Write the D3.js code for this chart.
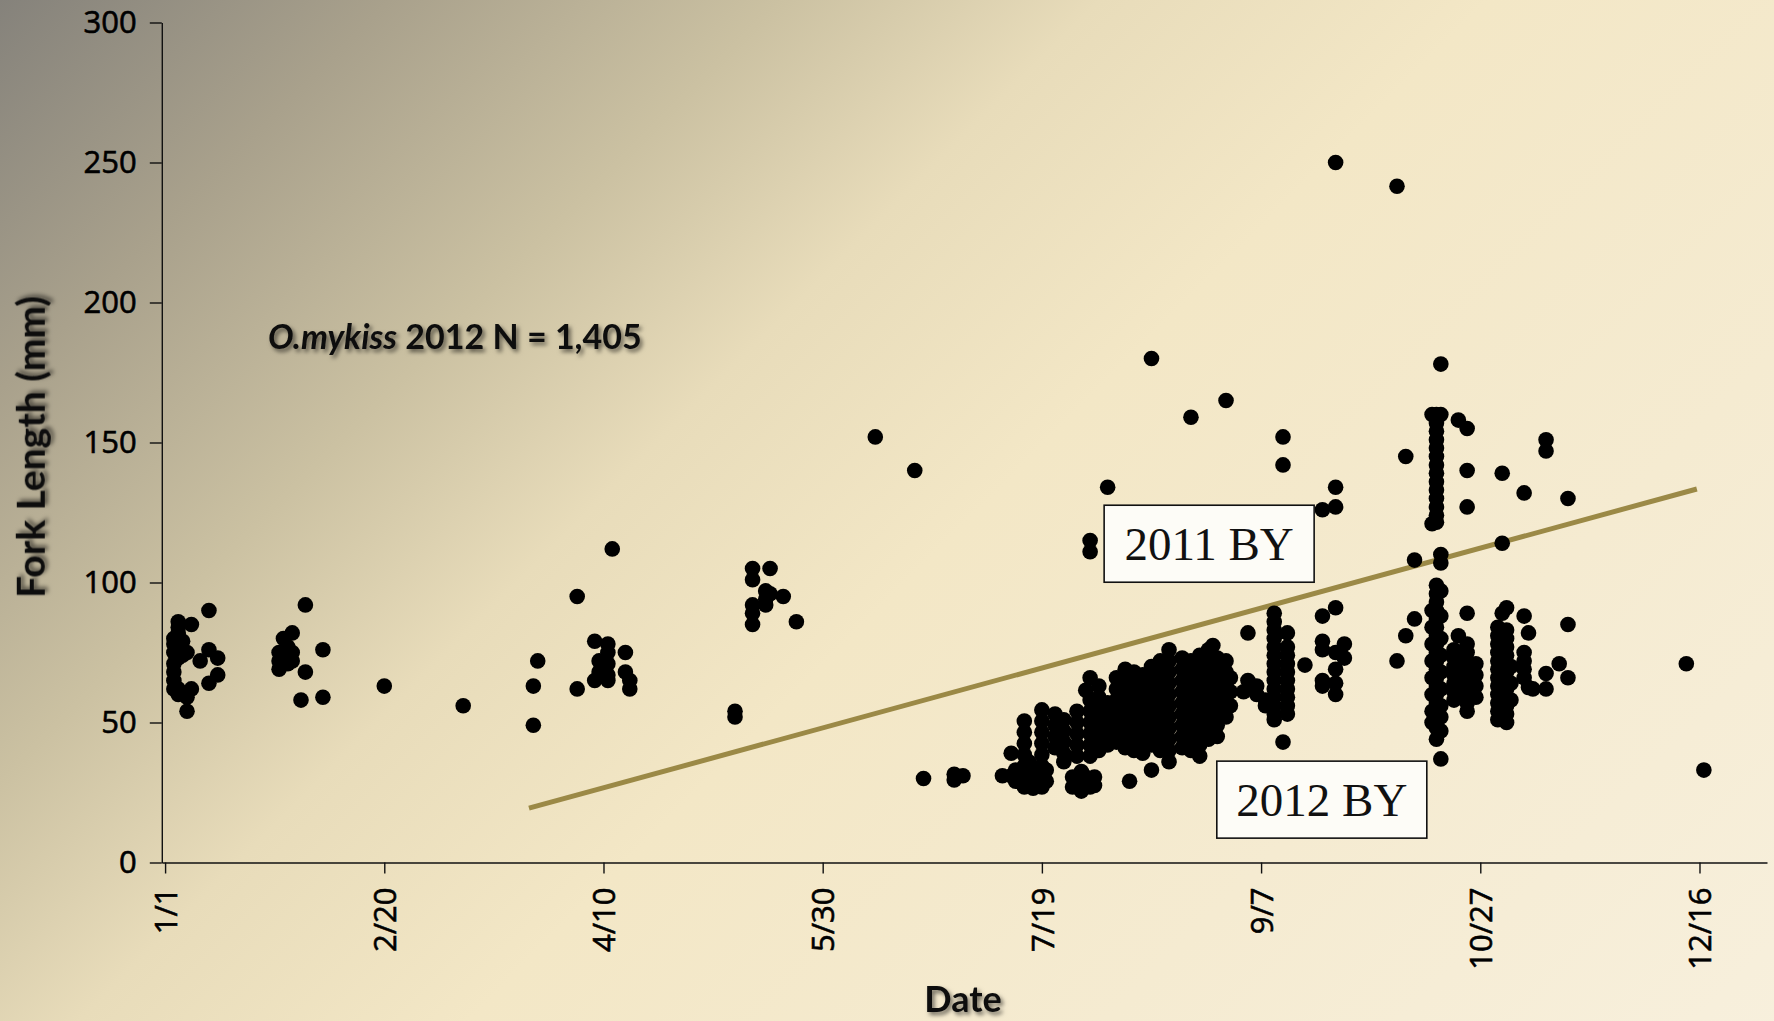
<!DOCTYPE html>
<html>
<head>
<meta charset="utf-8">
<script src="https://cdn.jsdelivr.net/npm/d3@7/dist/d3.min.js"></script>
<style>
  html, body { margin: 0; padding: 0; overflow: hidden; background: #f3e8c8; }
  text { font-family: Lato, "Open Sans", sans-serif; }
</style>
</head>
<body>
<div id="chart-area"></div>
<script>
// sample day (days after 1/1/2012) and fork lengths (mm) of the fish caught that day
const sampleDays = [
  2, 3, 4, 5, 6, 8, 10, 12,
  26, 27, 28, 29, 31, 32, 36, 50, 68,
  84, 85, 94, 98, 99, 101, 102, 105, 106,
  130, 134, 137, 138, 141, 144, 162, 171, 173, 180, 182,
  191, 193, 194, 196, 197, 198, 200, 201, 203, 205, 207, 208, 209, 210, 211, 212, 213, 215,
  217, 219, 220, 221, 223, 225, 227, 229, 232, 234, 236, 238, 239, 240, 242, 243,
  246, 247, 249, 251, 253, 255, 256, 260, 264, 267, 269,
  281, 283, 285, 289, 290, 291, 294, 295, 297, 299,
  304, 305, 306, 307, 310, 311, 312, 315, 318, 320, 347, 351
];
const forkLengths = [
  [80, 78, 75, 71, 68, 65, 62], [86, 84, 82, 76, 73, 62, 60], [79, 74], [75, 59, 54],
  [85, 62], [72], [90, 76, 64], [73, 67],
  [75, 72, 69], [80, 73], [77, 71], [82, 75, 72], [58], [92, 68], [76, 59], [63], [56],
  [63, 49], [72], [95, 62], [79, 65], [72, 68], [78, 75, 71, 67, 65], [112], [75, 68], [65, 62],
  [54, 52], [105, 101, 92, 89, 85], [97, 94, 92], [105, 96], [95], [86], [152], [140], [30],
  [31.5, 29.5], [31],
  [31], [39, 31], [33, 29], [50.5, 46.5, 42.5, 38.5, 34.5, 30.5, 27], [36, 32, 28], [34, 30, 26.5],
  [54.5, 50.5, 46.5, 42.5, 38.5, 34.5, 30.5, 27], [33, 29], [53, 49, 45, 41], [51, 47, 43, 39, 36],
  [30.5, 27], [54, 50, 46, 42, 38], [32.5, 28.5, 25.5], [61.5, 30.5],
  [115, 111, 66, 58, 54, 50, 46, 42, 38, 27], [30.5, 27.5], [63, 59, 55, 51, 47, 43, 40],
  [134, 57, 53, 49, 45, 42],
  [66, 62, 58, 54, 50, 46, 43], [69, 65, 61, 57, 53, 49, 45, 41], [29],
  [68, 64, 60, 56, 52, 48, 44, 40], [67, 63, 59, 55, 51, 47, 43, 39],
  [180, 70, 66, 62, 58, 54, 50, 46, 42, 33], [72, 68, 64, 60, 56, 52, 48, 44, 40],
  [76, 72, 68, 64, 60, 56, 52, 48, 44, 40, 36], [73, 69, 65, 61, 57, 53, 49, 45, 41],
  [159, 72, 68, 64, 60, 56, 52, 48, 44, 40], [74, 70, 66, 62, 58, 54, 50, 46, 42, 38],
  [76, 72, 68, 64, 60, 56, 52, 48, 44], [77.5], [73, 69, 65, 61, 57, 53, 49, 45],
  [165, 72, 68, 64, 60, 56, 52], [66, 61, 56],
  [61], [82, 65], [63, 60], [58, 56], [89, 86, 83, 80, 77, 74, 71, 68, 65, 62, 59, 56, 53, 51],
  [152, 142, 43], [82, 77, 74, 71, 68, 65, 62, 59, 56, 53], [70.5], [126, 88, 79, 76, 65, 63],
  [250, 134, 127, 91, 75, 69, 64, 60], [78, 73],
  [241.5, 72], [145, 81], [108, 87], [160, 121, 90, 84, 78, 72, 66, 60, 54, 50],
  [160, 157, 154, 151, 148, 145, 142, 139, 136, 133, 130, 127, 124, 121.5,
   99, 96, 93, 90, 87, 84, 81, 78, 75, 72, 69, 66, 63, 60, 57, 54, 51, 48, 44],
  [178, 160, 110, 107, 97, 88, 80, 74, 68, 62, 56, 52, 47, 37],
  [76, 73, 70, 67, 64, 61, 58], [158, 81], [155, 140, 127, 89, 78, 75, 72, 69, 66, 63, 60, 57, 54],
  [71, 67, 63, 59],
  [84, 81, 78, 75, 72, 69, 66, 63, 60, 57, 54, 51], [139, 114, 89],
  [91, 83, 80, 77, 74, 71, 68, 65, 62, 59, 56, 53, 50], [70, 64, 58], [132, 88, 75, 72, 69, 66],
  [82, 62.5], [62], [151, 147, 67.5, 62], [71], [130, 85, 66], [71], [33]
];
const tickDays = [0, 50, 100, 150, 200, 250, 300, 350];
const tickLabels = ["1/1", "2/20", "4/10", "5/30", "7/19", "9/7", "10/27", "12/16"];
const lengthTicks = [0, 50, 100, 150, 200, 250, 300];
const trendDays = [83, 349.4];
const trendLengths = [19.4, 133.4];
const broodYears = ["2011 BY", "2012 BY"];

const drawChart = () => {
  const chartSize = { width: 1774, height: 1021 };
  const margin = { left: 161.8, right: 7, top: 22.5, bottom: 158.5 };
  const width = chartSize.width - (margin.left + margin.right);
  const height = chartSize.height - (margin.top + margin.bottom);

  const fish = sampleDays.flatMap((d, i) => forkLengths[i].map(v => ({ day: d, length: v })));

  const x = d3.scaleLinear().domain([-0.75, 365.4]).range([0, width]);
  const y = d3.scaleLinear().domain([0, 300]).range([height, 0]);

  const svg = d3.select("#chart-area")
    .append("svg")
    .attr("width", chartSize.width)
    .attr("height", chartSize.height)
    .style("display", "block");

  const defs = svg.append("defs");
  const grad = defs.append("linearGradient")
    .attr("id", "bg")
    .attr("gradientUnits", "userSpaceOnUse")
    .attr("x1", 0).attr("y1", 0).attr("x2", 1774).attr("y2", 1774);
  [[0, "#85827b"], [0.11, "#a9a18c"], [0.22, "#cbc1a2"], [0.31, "#e8dcba"],
   [0.42, "#f3e7c6"], [0.6, "#f5ebd1"], [0.85, "#f8f1e0"]]
    .forEach(([o, c]) => grad.append("stop").attr("offset", o).attr("stop-color", c));

  const shadow = defs.append("filter").attr("id", "shadow")
    .attr("x", "-10%").attr("y", "-30%").attr("width", "130%").attr("height", "170%");
  shadow.append("feDropShadow")
    .attr("dx", 2.5).attr("dy", 3).attr("stdDeviation", 2.2)
    .attr("flood-color", "#000").attr("flood-opacity", 0.55);

  svg.append("rect")
    .attr("width", chartSize.width)
    .attr("height", chartSize.height)
    .attr("fill", "url(#bg)");

  const g = svg.append("g")
    .attr("transform", `translate(${margin.left}, ${margin.top})`);

  const yAxis = d3.axisLeft(y)
    .tickValues(lengthTicks)
    .tickSize(12)
    .tickSizeOuter(0)
    .tickPadding(13);

  const xAxis = d3.axisBottom(x)
    .tickValues(tickDays)
    .tickFormat((d, i) => tickLabels[i])
    .tickSize(11)
    .tickSizeOuter(0);

  g.append("g").attr("class", "y-axis").call(yAxis);
  g.append("g")
    .attr("class", "x-axis")
    .attr("transform", `translate(0, ${height})`)
    .call(xAxis);

  g.selectAll(".x-axis text")
    .attr("transform", "rotate(-90)")
    .attr("x", -25)
    .attr("y", 0)
    .attr("dy", "0.36em")
    .attr("text-anchor", "end");

  g.selectAll(".domain, .tick line").attr("stroke", "#111").attr("stroke-width", 1.4);
  g.selectAll(".tick text")
    .attr("fill", "#000")
    .attr("stroke", "#000")
    .attr("stroke-width", 0.6)
    .style("font-family", "'Open Sans', Lato, sans-serif")
    .style("font-size", "31px");

  // trend line splitting the brood years
  const line = d3.line().x(d => x(d[0])).y(d => y(d[1]));
  g.append("path")
    .datum(trendDays.map((d, i) => [d, trendLengths[i]]))
    .attr("d", line)
    .attr("stroke", "#9b8946")
    .attr("stroke-width", 5)
    .attr("fill", "none");

  g.selectAll("circle")
    .data(fish)
    .enter()
    .append("circle")
    .attr("cx", d => x(d.day))
    .attr("cy", d => y(d.length))
    .attr("r", 7.8)
    .attr("fill", "#000");

  // brood year label boxes
  const boxes = [[214.2, 127.6], [239.9, 36.2]];
  boxes.forEach(([d, v], i) => {
    const bx = x(d), by = y(v);
    g.append("rect")
      .attr("x", bx).attr("y", by)
      .attr("width", 210).attr("height", 77)
      .attr("fill", "#fdfcf7")
      .attr("stroke", "#111")
      .attr("stroke-width", 1.6);
    g.append("text")
      .attr("x", bx + 105).attr("y", by + 55)
      .attr("text-anchor", "middle")
      .style("font-family", "'Liberation Serif', 'DejaVu Serif', serif")
      .style("font-size", "47px")
      .attr("fill", "#111")
      .text(broodYears[i]);
  });

  g.append("text")
    .attr("class", "y axis-label")
    .attr("transform", "rotate(-90)")
    .attr("x", -(447 - margin.top))
    .attr("y", 45 - margin.left)
    .attr("text-anchor", "middle")
    .style("font-size", "39px")
    .style("font-weight", "bold")
    .attr("fill", "#111")
    .attr("filter", "url(#shadow)")
    .text("Fork Length (mm)");

  g.append("text")
    .attr("class", "x axis-label")
    .attr("x", 963 - margin.left)
    .attr("y", 1012 - margin.top)
    .attr("text-anchor", "middle")
    .style("font-size", "36px")
    .style("font-weight", "bold")
    .attr("fill", "#111")
    .attr("filter", "url(#shadow)")
    .text("Date");

  const note = g.append("text")
    .attr("x", 268 - margin.left)
    .attr("y", 349 - margin.top)
    .style("font-size", "34px")
    .style("font-weight", "bold")
    .attr("fill", "#111")
    .attr("filter", "url(#shadow)");
  note.append("tspan").style("font-style", "italic").text("O.mykiss");
  note.append("tspan").text(" 2012 N = 1,405");
};

window.onload = drawChart;
</script>
</body>
</html>
